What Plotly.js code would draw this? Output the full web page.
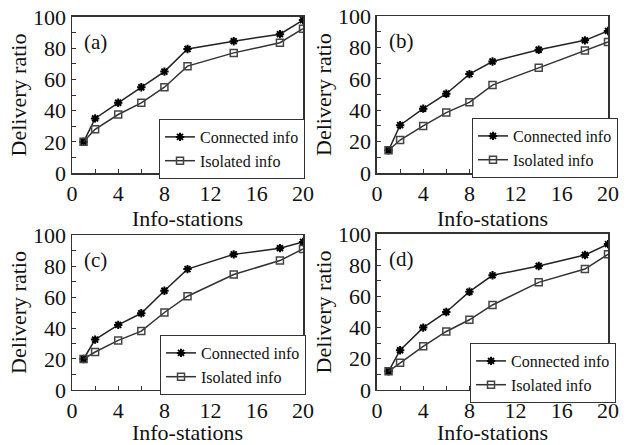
<!DOCTYPE html>
<html>
<head>
<meta charset="utf-8">
<script src="https://cdn.plot.ly/plotly-3.0.1.min.js"></script>
<style>html,body{margin:0;padding:0;background:#fff;}#chart{width:635px;height:445px;}</style>
</head>
<body>
<div id="chart"></div>
<script>
const xVals = [1, 2, 4, 6, 8, 10, 14, 18, 20];
const aConnected = [20, 35, 45, 55, 65, 79.5, 84.5, 89, 98];
const aIsolated  = [20, 28, 37.5, 45, 55, 68.5, 77, 83.5, 92.5];
const bConnected = [14.5, 30.5, 41, 50.5, 63, 71, 78.5, 84.5, 90.5];
const bIsolated  = [14.5, 21, 30, 38.5, 45, 56, 67, 78, 83.5];
const cConnected = [20, 32.5, 42, 49.5, 64, 78, 87.5, 91.5, 95.5];
const cIsolated  = [20, 24.5, 32, 38, 50, 60.5, 74.5, 83.5, 91];
const dConnected = [12, 25.5, 40, 50, 63, 73.5, 79.5, 86.5, 93.5];
const dIsolated  = [12, 17.5, 28, 37.5, 45, 54.5, 69, 77.5, 87];
const panelLabels = ['(a)', '(b)', '(c)', '(d)'];
const seriesNames = ['Connected info', 'Isolated info'];
const xTitle = 'Info-stations';
const yTitle = 'Delivery ratio';

const FONT = 'Liberation Serif';
const panels = [
  {c: aConnected, i: aIsolated, xd: [0.1134, 0.4772], yd: [0.6112, 0.9618]},
  {c: bConnected, i: bIsolated, xd: [0.5937, 0.9575], yd: [0.6112, 0.9640]},
  {c: cConnected, i: cIsolated, xd: [0.1134, 0.4772], yd: [0.1236, 0.4719]},
  {c: dConnected, i: dIsolated, xd: [0.5937, 0.9575], yd: [0.1236, 0.4742]}
];
const legendPos = [
  {x: 0.2504, y: 0.7326},
  {x: 0.7433, y: 0.7348},
  {x: 0.2520, y: 0.2472},
  {x: 0.7402, y: 0.2292}
];

const data = [];
const layout = {
  width: 635, height: 445,
  margin: {l: 0, r: 0, t: 0, b: 0},
  paper_bgcolor: '#fff', plot_bgcolor: '#fff',
  font: {family: FONT, color: '#111', size: 20},
  annotations: []
};

panels.forEach((p, k) => {
  const n = k + 1;
  const xa = n === 1 ? 'x' : 'x' + n;
  const ya = n === 1 ? 'y' : 'y' + n;
  const lg = n === 1 ? 'legend' : 'legend' + n;
  data.push({
    x: xVals, y: p.c, xaxis: xa, yaxis: ya, legend: lg,
    name: seriesNames[0], mode: 'lines+markers', type: 'scatter',
    line: {color: '#222', width: 1.5},
    marker: {symbol: 'asterisk-open', size: 7, color: '#000', line: {color: '#000', width: 2}}
  });
  data.push({
    x: xVals, y: p.i, xaxis: xa, yaxis: ya, legend: lg,
    name: seriesNames[1], mode: 'lines+markers', type: 'scatter',
    line: {color: '#333', width: 1.5},
    marker: {symbol: 'square-open', size: 7, color: '#444', line: {color: '#444', width: 1.5}}
  });
  const xKey = n === 1 ? 'xaxis' : 'xaxis' + n;
  const yKey = n === 1 ? 'yaxis' : 'yaxis' + n;
  layout[xKey] = {
    domain: p.xd, anchor: ya, range: [0, 20], dtick: 4, tick0: 0,
    ticks: 'inside', ticklen: 4, tickwidth: 1, tickcolor: '#333',
    minor: {dtick: 2, ticks: 'inside', ticklen: 4, tickwidth: 1, tickcolor: '#333'},
    showline: true, mirror: true, linecolor: '#333', linewidth: 1.5,
    showgrid: false, zeroline: false, fixedrange: true,
    tickfont: {family: FONT, size: 22, color: '#111'},
    title: {text: xTitle, font: {family: FONT, size: 22, color: '#111'}, standoff: 0}
  };
  layout[yKey] = {
    domain: p.yd, anchor: xa, range: [0, 100], dtick: 20, tick0: 0,
    ticks: 'inside', ticklen: 4, tickwidth: 1, tickcolor: '#333',
    minor: {dtick: 10, ticks: 'inside', ticklen: 4, tickwidth: 1, tickcolor: '#333'},
    showline: true, mirror: true, linecolor: '#333', linewidth: 1.5,
    showgrid: false, zeroline: false, fixedrange: true,
    tickfont: {family: FONT, size: 22, color: '#111'},
    title: {text: yTitle, font: {family: FONT, size: 22, color: '#111'}, standoff: 0}
  };
  layout[lg] = {
    x: legendPos[k].x, y: legendPos[k].y, xanchor: 'left', yanchor: 'top',
    xref: 'paper', yref: 'paper',
    bgcolor: '#fff', bordercolor: '#333', borderwidth: 1,
    font: {family: FONT, size: 16, color: '#111'},
    tracegroupgap: 0, itemwidth: 30
  };
  layout.annotations.push({
    text: panelLabels[k], xref: 'paper', yref: 'paper',
    x: p.xd[0] + 0.015, y: p.yd[1] - 0.025, xanchor: 'left', yanchor: 'top',
    showarrow: false, font: {family: FONT, size: 21, color: '#111'}
  });
});

Plotly.newPlot('chart', data, layout, {displayModeBar: false, staticPlot: true});
</script>
</body>
</html>
